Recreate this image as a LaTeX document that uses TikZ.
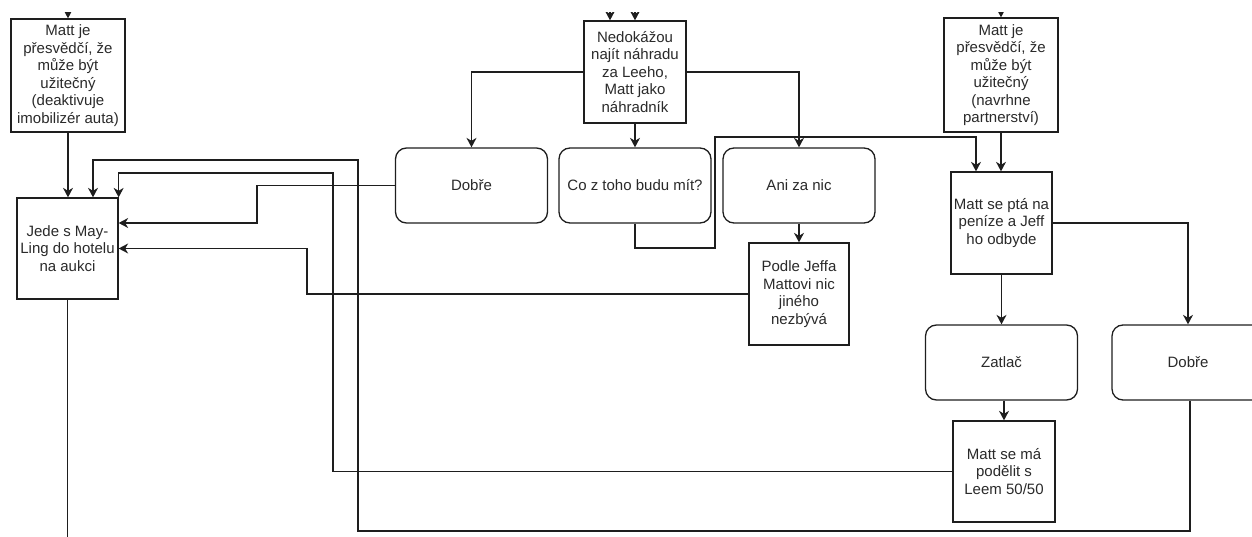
\documentclass[tikz,border=0pt]{standalone}
\usepackage{fontspec}
\setmainfont{Liberation Sans}
\usetikzlibrary{arrows.meta}
\definecolor{ink}{HTML}{1E1E1E}
\definecolor{txt}{HTML}{2A2A2A}
\begin{document}
\begin{tikzpicture}[x=1pt,y=-1pt,
  box/.style={draw=ink, line width=1.3pt, fill=white, align=center, inner sep=0pt,
    font=\fontsize{15}{17.5}\selectfont, text=txt},
  rbox/.style={box, rounded corners=11pt, minimum width=152pt, minimum height=75pt},
  link/.style={draw=ink, line width=1.3pt, -{Stealth[length=9.5pt,width=10pt,inset=3pt]}},
  plain/.style={draw=ink, line width=1.3pt}
]
\useasboundingbox (0,0) rectangle (1252,537);

% left column
\node[box, minimum width=114pt, minimum height=113pt] (m1) at (68,75.5)
  {Matt je\\přesvědčí, že\\může být\\užitečný\\(deaktivuje\\imobilizér auta)};
\node[box, minimum width=101pt, minimum height=101pt] (jede) at (67.5,248.5)
  {Jede s May-\\Ling do hotelu\\na aukci};

% middle branch
\node[box, minimum width=102pt, minimum height=102pt] (ned) at (635,72)
  {Nedokážou\\najít náhradu\\za Leeho,\\Matt jako\\náhradník};
\node[rbox] (dob1) at (471.5,185.5) {Dobře};
\node[rbox] (coz) at (635,185.5) {Co z toho budu mít?};
\node[rbox] (ani) at (799,185.5) {Ani za nic};
\node[box, minimum width=100pt, minimum height=102pt] (podle) at (799,294)
  {Podle Jeffa\\Mattovi nic\\jiného\\nezbývá};

% right branch
\node[box, minimum width=114pt, minimum height=114pt] (m2) at (1001,75)
  {Matt je\\přesvědčí, že\\může být\\užitečný\\(navrhne\\partnerství)};
\node[box, minimum width=101pt, minimum height=102pt] (pta) at (1001.5,223)
  {Matt se ptá na\\peníze a Jeff\\ho odbyde};
\node[rbox] (zat) at (1001.5,362.5) {Zatlač};
\node[rbox] (dob2) at (1188,362.5) {Dobře};
\node[box, minimum width=102pt, minimum height=101pt] (pod) at (1004,471.5)
  {Matt se má\\podělit s\\Leem 50/50};

% incoming connectors from above (only their heads show below the top margin)
\coordinate (in1) at (68,-12);
\coordinate (in2) at (610,-12);
\coordinate (in3) at (635,-12);
\coordinate (in4) at (1001,-12);
\begin{scope}
  \clip (0,12.5) rectangle (1252,40);
  \draw[link] (in1) -- (m1.north);
  \draw[link] (in2) -- (in2 |- ned.north);
  \draw[link] (in3) -- (ned.north);
  \draw[link] (in4) -- (m2.north);
\end{scope}

% left column flow
\draw[link] (m1.south) -- (m1.south |- jede.north);
\coordinate (out) at (67.5,550);
\draw[plain] (jede.south) -- (out);

% middle branch
\draw[link] (ned.west) -| (dob1.north);
\draw[link] (ned.south) -- (coz.north);
\draw[link] (ned.east) -| (ani.north);
\draw[link] (ani.south) -- (podle.north);
\coordinate (ptain) at ([xshift=-25.5pt]pta.north);
\draw[link] (coz.south) |- (715,248) -- (715,137) -| (ptain);

% right branch
\draw[link] (m2.south) -- (m2.south |- pta.north);
\draw[link] (pta.east) -| (dob2.north);
\draw[link] (pta.south) -- (pta.south |- zat.north);
\draw[link] (pod.north |- zat.south) -- (pod.north);

% returns to the hotel box
\draw[link] (dob1.west) -| (257,223) -- ([yshift=25.5pt]jede.east);
\draw[link] (podle.west) -| (307,248.5) -- (jede.east);
\draw[link] (pod.west) -| (333,173) -| (jede.north east);
\draw[link] ([xshift=2pt]dob2.south) |- (358,531) -- (358,160) -| ([xshift=25.5pt]jede.north);
\end{tikzpicture}
\end{document}
